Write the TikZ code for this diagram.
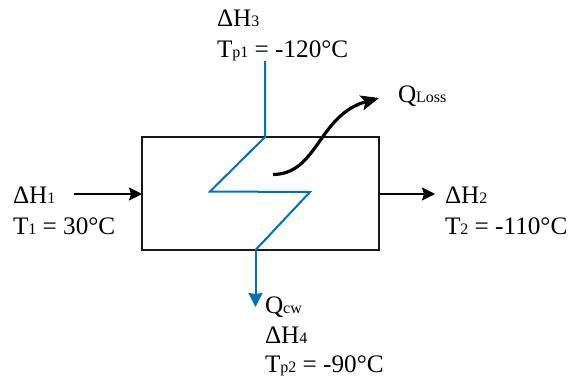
\documentclass[tikz,border=0pt]{standalone}
\usepackage{fontspec}
\setmainfont{Liberation Serif}
\usetikzlibrary{arrows.meta}
\definecolor{bluepipe}{RGB}{0,112,192}
\newcommand{\lab}[2]{#1{\fontsize{16}{16}\selectfont\raisebox{-0.5pt}{#2}}}
\tikzset{
  txt/.style={anchor=base west,inner sep=0pt,outer sep=0pt,font=\fontsize{25.2}{28}\selectfont},
  boxnode/.style={draw=black!90,line width=2pt,minimum width=237pt,minimum height=113pt,inner sep=0pt,outer sep=0pt},
  pipe/.style={draw=bluepipe,line width=2pt,line join=miter},
  blk/.style={draw=black,line width=2pt,-{Stealth[length=13pt,width=13pt,inset=2pt]}},
  heat/.style={draw=black,line width=3.2pt,-{Stealth[length=18pt,width=15pt,inset=4pt]}}
}
\begin{document}
\begin{tikzpicture}[x=1pt,y=-1pt]
\useasboundingbox (0,0) rectangle (569,376);
\node[boxnode] (hx) at (260.5,193.5) {};
\coordinate (pin) at (265,61);
\coordinate (ptop) at (265,137);
\coordinate (pa) at (210,191.5);
\coordinate (pb) at (310,192);
\coordinate (pbot) at (255.5,250);
\coordinate (pout) at (255.5,307);
\coordinate (lin) at (74,194);
\coordinate (lout) at (435,194);
\coordinate (qs) at (273,174.5);
\coordinate (qe) at (379,98);
\draw[pipe] (pin) -- (ptop) -- (pa) -- (pb) -- (pbot);
\draw[pipe,-{Stealth[length=14pt,width=14pt,inset=1pt]}] (pbot) -- (pout);
\draw[blk] (lin) -- (lin -| hx.west);
\draw[blk] (lout -| hx.east) -- (lout);
\draw[heat] (qs) .. controls (318,174) and (318,115) .. (qe);
\node[txt] (h3) at (217,26) {\lab{ΔH}{3}};
\node[txt] (tp1) at (217,57) {\lab{T}{p1} = -120°C};
\node[txt] (ql) at (398,102) {\lab{Q}{Loss}};
\node[txt] (h1) at (13,203) {\lab{ΔH}{1}};
\node[txt] (t1) at (13,234) {\lab{T}{1} = 30°C};
\node[txt] (h2) at (445,203) {\lab{ΔH}{2}};
\node[txt] (t2) at (445,234) {\lab{T}{2} = -110°C};
\node[txt] (qc) at (265,313) {\lab{Q}{cw}};
\node[txt] (h4) at (265,343) {\lab{ΔH}{4}};
\node[txt] (tp2) at (265,372) {\lab{T}{p2} = -90°C};
\end{tikzpicture}
\end{document}
